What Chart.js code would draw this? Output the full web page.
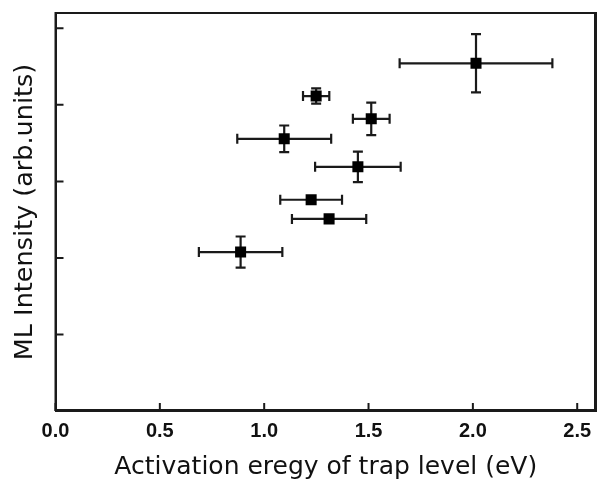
<!DOCTYPE html>
<html>
<head>
<meta charset="utf-8">
<script src="https://cdn.jsdelivr.net/npm/chart.js@4.4.1/dist/chart.umd.min.js"></script>
<style>
  html, body { margin: 0; background: #fff; overflow: hidden; }
  canvas { display: block; }
</style>
</head>
<body>
<canvas id="myChart" width="597" height="479"></canvas>
<script>
// values
const energy = [0.887, 1.096, 1.249, 1.513, 2.015, 1.449, 1.225, 1.311];
const energyErr = [0.20, 0.225, 0.063, 0.088, 0.366, 0.205, 0.148, 0.178];
const intensity = [2.076, 3.556, 4.115, 3.817, 4.543, 3.19, 2.76, 2.51];
const intensityErr = [0.204, 0.174, 0.10, 0.213, 0.38, 0.20, 0, 0];

const xTicks = [0, 0.5, 1.0, 1.5, 2.0, 2.5];
const yTicks = [1, 2, 3, 4, 5];

const ink = '#1a1a1a';

const errorBars = {
    id: 'errorBars',
    beforeDatasetsDraw(chart) {
        const ctx = chart.ctx;
        const x = chart.scales.x, y = chart.scales.y;
        ctx.save();
        ctx.strokeStyle = ink;
        ctx.lineWidth = 2.2;
        const cap = 5;
        for (let i = 0; i < energy.length; i++) {
            const px = x.getPixelForValue(energy[i]);
            const py = y.getPixelForValue(intensity[i]);
            const x0 = x.getPixelForValue(energy[i] - energyErr[i]);
            const x1 = x.getPixelForValue(energy[i] + energyErr[i]);
            ctx.beginPath();
            ctx.moveTo(x0, py); ctx.lineTo(x1, py);
            ctx.moveTo(x0, py - cap); ctx.lineTo(x0, py + cap);
            ctx.moveTo(x1, py - cap); ctx.lineTo(x1, py + cap);
            ctx.stroke();
            if (intensityErr[i] > 0) {
                const y0 = y.getPixelForValue(intensity[i] - intensityErr[i]);
                const y1 = y.getPixelForValue(intensity[i] + intensityErr[i]);
                ctx.beginPath();
                ctx.moveTo(px, y0); ctx.lineTo(px, y1);
                ctx.moveTo(px - cap, y0); ctx.lineTo(px + cap, y0);
                ctx.moveTo(px - cap, y1); ctx.lineTo(px + cap, y1);
                ctx.stroke();
            }
        }
        ctx.restore();
    },
    afterDraw(chart) {
        // frame round the plot area, tick marks pointing inwards
        const ctx = chart.ctx;
        const x = chart.scales.x, y = chart.scales.y;
        const area = chart.chartArea;
        ctx.save();
        ctx.strokeStyle = ink;
        ctx.lineWidth = 2;
        ctx.strokeRect(area.left, area.top, area.right - area.left - 1, area.bottom - area.top - 1);
        ctx.beginPath();
        x.ticks.forEach(t => {
            const px = x.getPixelForValue(t.value);
            ctx.moveTo(px, area.bottom); ctx.lineTo(px, area.bottom - 8);
        });
        y.ticks.forEach(t => {
            const py = y.getPixelForValue(t.value);
            ctx.moveTo(area.left, py); ctx.lineTo(area.left + 8, py);
        });
        ctx.stroke();
        ctx.restore();
    }
};

const points = energy.map((e, i) => ({ x: e, y: intensity[i] }));

const noGrid = { display: false, drawTicks: false };

new Chart(document.getElementById('myChart'), {
    type: 'scatter',
    data: {
        datasets: [{
            data: points,
            pointStyle: 'rect',
            pointRadius: 7.8,
            backgroundColor: '#000',
            borderColor: '#000',
            borderWidth: 0
        }]
    },
    options: {
        responsive: false,
        animation: false,
        layout: { autoPadding: false, padding: { top: 13, right: 1, left: 0, bottom: 0 } },
        plugins: { legend: { display: false }, tooltip: { enabled: false } },
        scales: {
            x: {
                type: 'linear', position: 'bottom', min: 0, max: 2.59,
                afterBuildTicks: s => { s.ticks = xTicks.map(v => ({ value: v })); },
                afterFit: s => { s.height = 68; s.paddingLeft = 0; s.paddingRight = 0; },
                grid: noGrid,
                border: { display: true, color: ink, width: 2 },
                ticks: {
                    autoSkip: false, maxRotation: 0, padding: 8, color: '#111',
                    font: { family: 'Liberation Sans', size: 20, weight: 'bold' },
                    callback: v => v.toFixed(1)
                },
                title: {
                    display: true, text: 'Activation eregy of trap level (eV)', color: '#111',
                    font: { family: 'DejaVu Sans', size: 25 }, padding: { top: 6, bottom: -3 }
                }
            },
            y: {
                type: 'linear', position: 'left', min: 0, max: 5.2,
                afterBuildTicks: s => { s.ticks = yTicks.map(v => ({ value: v })); },
                afterFit: s => { s.width = 55.5; },
                grid: noGrid,
                border: { display: true, color: ink, width: 2 },
                ticks: { display: false },
                title: {
                    display: true, text: 'ML Intensity (arb.units)', color: '#111',
                    font: { family: 'DejaVu Sans', size: 25.5 }, padding: { top: 10, bottom: 15.5 }
                }
            },
            x2: {
                type: 'linear', position: 'top', min: 0, max: 2.59,
                afterFit: s => { s.height = 0; s.paddingLeft = 0; s.paddingRight = 0; },
                grid: noGrid, ticks: { display: false },
                border: { display: true, color: ink, width: 2 }
            },
            y2: {
                type: 'linear', position: 'right', min: 0, max: 5.2,
                afterFit: s => { s.width = 0; },
                grid: noGrid, ticks: { display: false },
                border: { display: true, color: ink, width: 2 }
            }
        }
    },
    plugins: [errorBars]
});
</script>
</body>
</html>
